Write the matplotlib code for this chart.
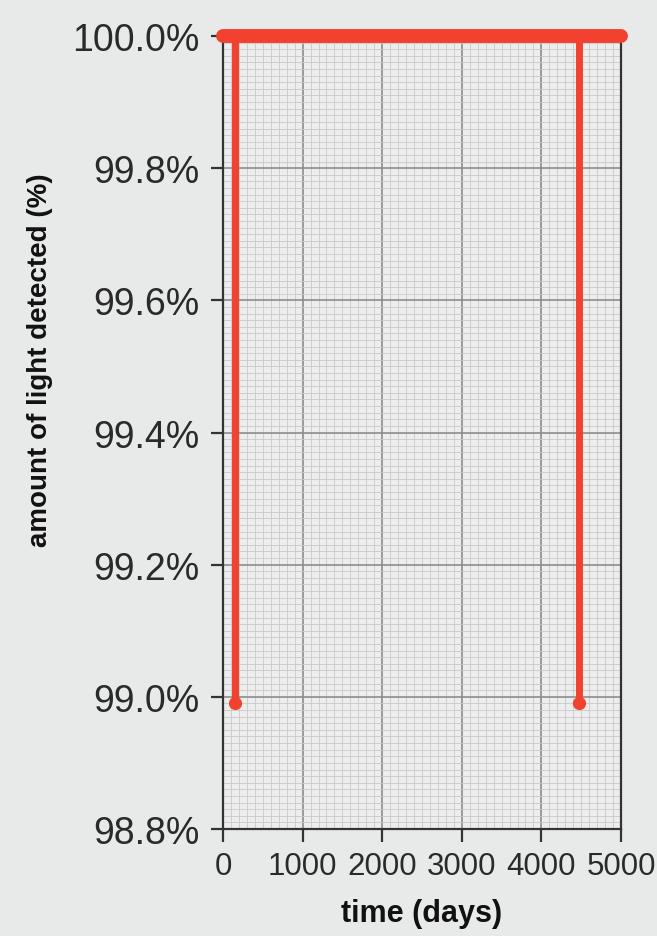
import matplotlib
matplotlib.use("Agg")
import matplotlib.pyplot as plt
from matplotlib.ticker import MultipleLocator, FuncFormatter

# data
baseline_days = [0, 5000]
baseline_light = [100.0, 100.0]
transit_days = [150, 4470]
transit_light = [98.99, 98.99]
x_ticks = [0, 1000, 2000, 3000, 4000, 5000]
y_ticks = [98.8, 99.0, 99.2, 99.4, 99.6, 99.8, 100.0]

bg = "#e8e9e9"
red = "#f2412f"

fig = plt.figure(figsize=(6.57, 9.37), dpi=100, facecolor=bg)
ax = fig.add_axes([223/657, 1-830/937, (621-223)/657, (830-37)/937])
ax.set_facecolor("#ecedec")

ax.set_xlim(0, 5000)
ax.set_ylim(98.8, 100.0)
ax.set_xticks(x_ticks)
ax.set_yticks(y_ticks)
ax.xaxis.set_minor_locator(MultipleLocator(100))
ax.yaxis.set_minor_locator(MultipleLocator(0.01))
ax.yaxis.set_major_formatter(FuncFormatter(lambda v, p: f"{v:.1f}%"))

ax.grid(which="minor", color="#c9c9c9", linewidth=0.6)
ax.grid(which="major", color="#8c8c8c", linewidth=1.2)
ax.set_axisbelow(True)

for s in ax.spines.values():
    s.set_color("#333333")
    s.set_linewidth(1.6)

ax.tick_params(which="major", direction="out", length=9, width=1.6, color="#333333")
ax.tick_params(which="minor", length=0)
ax.tick_params(axis="y", pad=8)
ax.tick_params(axis="x", pad=7)

for lab in ax.get_yticklabels():
    lab.set_fontfamily("Liberation Sans")
    lab.set_fontsize(27)
    lab.set_color("#2a2a2a")
for lab in ax.get_xticklabels():
    lab.set_fontfamily("Liberation Sans")
    lab.set_fontsize(22.5)
    lab.set_color("#2a2a2a")

# transits
ax.vlines(transit_days, transit_light, [baseline_light[0]] * len(transit_days),
          colors=red, linewidth=5, zorder=4, clip_on=False)
ax.plot(transit_days, transit_light, "o", color=red, markersize=8.5, zorder=4, clip_on=False)
# baseline
ax.plot(baseline_days, baseline_light, color=red, linewidth=10, solid_capstyle="round",
        zorder=5, clip_on=False)

ax.set_xlabel("time (days)", fontfamily="Liberation Sans", fontweight="bold", fontsize=22,
              color="#111111", labelpad=12)
fig.text(40/657, 1-360/937, "amount of light detected (%)", rotation=90,
         fontfamily="Liberation Sans", fontweight="bold", fontsize=20, color="#111111",
         ha="center", va="center")

fig.savefig("out.png", dpi=100, facecolor=bg)
